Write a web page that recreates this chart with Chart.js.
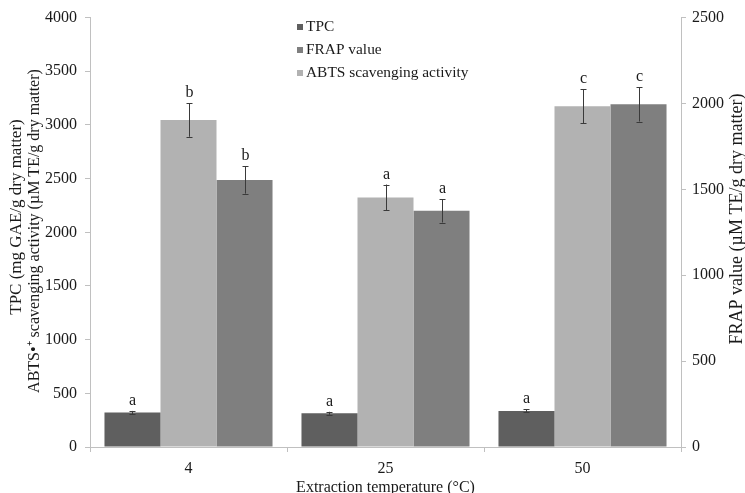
<!DOCTYPE html>
<html>
<head>
<meta charset="utf-8">
<script src="https://cdn.jsdelivr.net/npm/chart.js@4/dist/chart.umd.min.js"></script>
<style>
  html, body { margin: 0; padding: 0; background: #ffffff; }
  #wrap { width: 745px; height: 493px; position: relative; }
</style>
</head>
<body>
<div id="wrap"><canvas id="chart" width="745" height="493"></canvas></div>
<script>
// Extraction temperatures (°C)
const temperatures = ['4', '25', '50'];

// Total phenolic content (left axis) with standard deviations
const tpcValues = [322, 314, 336];
const tpcErrors = [14, 14, 14];
const tpcLetters = ['a', 'a', 'a'];

// ABTS scavenging activity (left axis)
const abtsValues = [3045, 2325, 3175];
const abtsErrors = [155, 120, 160];
const abtsLetters = ['b', 'a', 'c'];

// FRAP value (right axis)
const frapValues = [1555, 1375, 1995];
const frapErrors = [80, 68, 100];
const frapLetters = ['b', 'a', 'c'];

const leftTicks = [0, 500, 1000, 1500, 2000, 2500, 3000, 3500, 4000];
const rightTicks = [0, 500, 1000, 1500, 2000, 2500];

const FONT = "'Liberation Serif', 'Times New Roman', serif";
const TEXT = '#1a1a1a';
const AXIS = '#c0c0c0';

const errorsByDataset = [tpcErrors, abtsErrors, frapErrors];
const lettersByDataset = [tpcLetters, abtsLetters, frapLetters];

// Error bars and significance letters drawn on each bar
const errorBarPlugin = {
  id: 'errorBars',
  afterDatasetsDraw(chart) {
    const ctx = chart.ctx;
    ctx.save();
    chart.data.datasets.forEach((ds, di) => {
      const meta = chart.getDatasetMeta(di);
      const yScale = chart.scales[ds.yAxisID];
      meta.data.forEach((bar, i) => {
        const v = ds.data[i];
        const e = errorsByDataset[di][i];
        const yTop = yScale.getPixelForValue(v + e);
        const yBot = yScale.getPixelForValue(v - e);
        const x = Math.round(bar.x) + 0.5;
        ctx.strokeStyle = '#3a3a3a';
        ctx.lineWidth = 1;
        ctx.beginPath();
        ctx.moveTo(x, yTop); ctx.lineTo(x, yBot);
        ctx.moveTo(x - 3, Math.round(yTop) + 0.5); ctx.lineTo(x + 3, Math.round(yTop) + 0.5);
        ctx.moveTo(x - 3, Math.round(yBot) + 0.5); ctx.lineTo(x + 3, Math.round(yBot) + 0.5);
        ctx.stroke();
        ctx.fillStyle = TEXT;
        ctx.font = '16px ' + FONT;
        ctx.textAlign = 'center';
        ctx.textBaseline = 'alphabetic';
        ctx.fillText(lettersByDataset[di][i], x, yTop - 6);
      });
    });
    ctx.restore();
  }
};

// Legend block and axis titles
const decorPlugin = {
  id: 'decor',
  afterDraw(chart) {
    const ctx = chart.ctx;
    const area = chart.chartArea;
    ctx.save();
    ctx.fillStyle = TEXT;
    ctx.textBaseline = 'middle';

    // legend
    ctx.font = '15.4px ' + FONT;
    const legendOrder = [0, 2, 1];
    legendOrder.forEach((di, row) => {
      const ds = chart.data.datasets[di];
      const y = 27 + row * 23;
      ctx.fillStyle = ds.backgroundColor;
      ctx.fillRect(297, y - 3, 6, 6);
      ctx.fillStyle = TEXT;
      ctx.textAlign = 'left';
      ctx.fillText(ds.label, 306, y);
    });

    // left axis title (two lines)
    ctx.save();
    ctx.translate(17, 217);
    ctx.rotate(-Math.PI / 2);
    ctx.textAlign = 'center';
    ctx.font = '17px ' + FONT;
    ctx.fillText('TPC (mg GAE/g dry matter)', 0, 0);
    ctx.restore();

    ctx.save();
    ctx.translate(35, 231);
    ctx.rotate(-Math.PI / 2);
    ctx.textAlign = 'center';
    ctx.font = '16px ' + FONT;
    ctx.fillText('ABTS\u2022\u207A scavenging activity (\u00B5M TE/g dry matter)', 0, 0);
    ctx.restore();

    // right axis title
    ctx.save();
    ctx.translate(737, 219);
    ctx.rotate(-Math.PI / 2);
    ctx.textAlign = 'center';
    ctx.font = '18px ' + FONT;
    ctx.fillText('FRAP value (\u00B5M TE/g dry matter)', 0, 0);
    ctx.restore();

    // x axis title
    ctx.font = '16px ' + FONT;
    ctx.textAlign = 'center';
    ctx.fillText('Extraction temperature (\u00B0C)', (area.left + area.right) / 2, 488);
    ctx.restore();
  }
};

const plainNumber = v => String(v);

new Chart(document.getElementById('chart'), {
  type: 'bar',
  data: {
    labels: temperatures,
    datasets: [
      { label: 'TPC', data: tpcValues, backgroundColor: '#5f5f5f', yAxisID: 'y' },
      { label: 'ABTS scavenging activity', data: abtsValues, backgroundColor: '#b2b2b2', yAxisID: 'y' },
      { label: 'FRAP value', data: frapValues, backgroundColor: '#7f7f7f', yAxisID: 'y1' }
    ]
  },
  options: {
    responsive: false,
    animation: false,
    devicePixelRatio: 1,
    layout: { padding: { top: 17, left: 0, right: 0, bottom: 0 } },
    datasets: { bar: { categoryPercentage: 0.853, barPercentage: 1.0, borderWidth: 0 } },
    plugins: { legend: { display: false }, tooltip: { enabled: false } },
    scales: {
      x: {
        afterFit(s) { s.height = 46; },
        grid: { display: true, drawOnChartArea: false, drawTicks: true, tickLength: 5, offset: true, color: AXIS },
        border: { color: AXIS },
        ticks: { color: TEXT, font: { family: FONT, size: 16 }, padding: 7 }
      },
      y: {
        position: 'left',
        min: 0, max: 4000,
        afterFit(s) { s.width = 90; },
        afterBuildTicks(s) { s.ticks = leftTicks.map(v => ({ value: v })); },
        grid: { display: true, drawOnChartArea: false, drawTicks: true, tickLength: 5, color: AXIS },
        border: { color: AXIS },
        ticks: { color: TEXT, font: { family: FONT, size: 16 }, padding: 8, callback: plainNumber }
      },
      y1: {
        position: 'right',
        min: 0, max: 2500,
        afterFit(s) { s.width = 64; },
        afterBuildTicks(s) { s.ticks = rightTicks.map(v => ({ value: v })); },
        grid: { display: true, drawOnChartArea: false, drawTicks: true, tickLength: 5, color: AXIS },
        border: { color: AXIS },
        ticks: { color: TEXT, font: { family: FONT, size: 16 }, padding: 6, callback: plainNumber }
      }
    }
  },
  plugins: [errorBarPlugin, decorPlugin]
});
</script>
</body>
</html>
